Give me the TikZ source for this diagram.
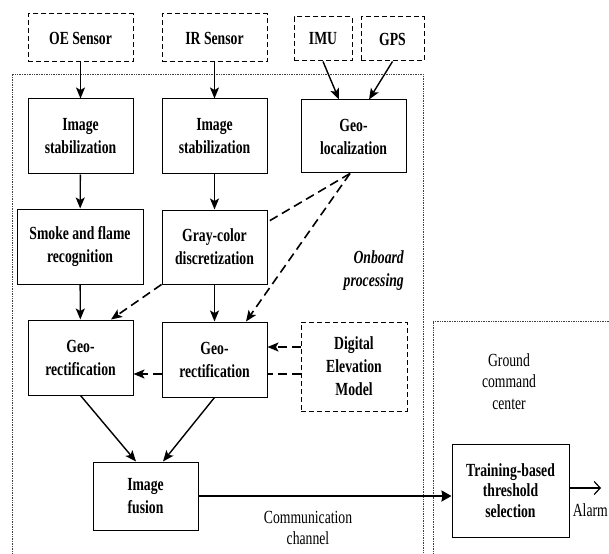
\documentclass[tikz,border=0pt]{standalone}
\usepackage{fontspec}
\setmainfont{Liberation Serif}[FakeStretch=0.74]
\usetikzlibrary{arrows.meta}
\begin{document}
\begin{tikzpicture}[x=1pt,y=-1pt,
  box/.style={draw, line width=1pt, fill=white, inner sep=0pt, align=center,
    font={\fontsize{18.5pt}{23pt}\selectfont\bfseries}},
  sensor/.style={box, dash pattern=on 5pt off 3pt},
  arr/.style={-{Stealth[length=11pt,width=9pt,inset=2.5pt]}, line width=1.4pt},
  darr/.style={arr, dash pattern=on 9pt off 5pt, line width=1.6pt},
  dline/.style={dash pattern=on 9pt off 5pt, line width=1.6pt},
  region/.style={draw=black!75, line width=0.8pt, dash pattern=on 0.8pt off 0.9pt},
  plain/.style={inner sep=0pt, align=center, font={\fontsize{18.5pt}{21.5pt}\selectfont}}
]
\useasboundingbox (0,0) rectangle (609,553);
\clip (0,0) rectangle (609,553);
\fill[white] (0,0) rectangle (609,553);

% regions
\draw[region] (12,574) -- (12,74) -- (423,74) -- (423,574);
\draw[region] (433,574) -- (433,321) -- (630,321);

% sensors
\node[sensor, minimum width=105pt, minimum height=48pt] (oe) at (80.5,38) {OE Sensor};
\node[sensor, minimum width=105pt, minimum height=48pt] (ir) at (214.5,38) {IR Sensor};
\node[sensor, minimum width=58pt, minimum height=44pt] (imu) at (323,39) {IMU};
\node[sensor, minimum width=63pt, minimum height=44pt] (gps) at (392.5,39) {GPS};

% processing boxes
\node[box, minimum width=105pt, minimum height=75pt] (stab1) at (80.5,136.5) {Image\\stabilization};
\node[box, minimum width=105pt, minimum height=75pt] (stab2) at (214.5,136.5) {Image\\stabilization};
\node[box, minimum width=105pt, minimum height=73pt] (geoloc) at (353.5,136.5) {Geo-\\localization};
\node[box, minimum width=126pt, minimum height=75pt] (smoke) at (80,246.5) {Smoke and flame\\recognition};
\node[box, minimum width=105pt, minimum height=74pt] (gray) at (214.5,247) {Gray-color\\discretization};
\node[box, minimum width=105pt, minimum height=75pt] (gr1) at (80.5,357.5) {Geo-\\rectification};
\node[box, minimum width=105pt, minimum height=75pt] (gr2) at (214.5,359.5) {Geo-\\rectification};
\node[sensor, minimum width=106pt, minimum height=89pt] (dem) at (354,366.5) {Digital\\Elevation\\Model};
\node[box, minimum width=105pt, minimum height=68pt] (fusion) at (145.5,496) {Image\\fusion};
\node[box, minimum width=117pt, minimum height=93pt,
  font={\fontsize{18.5pt}{20.5pt}\selectfont\bfseries}] (train) at (510.5,490.5) {Training-based\\threshold\\selection};

% labels
\node[plain, anchor=east, align=right, font={\fontsize{18.5pt}{23pt}\selectfont\bfseries\itshape}] (onboard) at (404,271) {Onboard\\processing};
\node[plain] (ground) at (509,381.5) {Ground\\command\\center};
\node[plain, font={\fontsize{18.5pt}{21pt}\selectfont}] (comm) at (308,527.5) {Communication\\channel};
\node[plain, anchor=east] (alarmtxt) at (608,510) {Alarm};

% solid connectors
\draw[arr] (oe) -- (stab1);
\draw[arr] (ir) -- (stab2);
\draw[arr] (imu.south) -- ([xshift=-14.5pt]geoloc.north);
\draw[arr] (gps.south) -- ([xshift=15.5pt]geoloc.north);
\draw[arr] (stab1) -- (smoke);
\draw[arr] (stab2) -- (gray);
\draw[arr] (smoke) -- (gr1);
\draw[arr] (gray) -- (gr2);
\draw[arr] (gr1.south) -- ([xshift=-9.5pt]fusion.north);
\draw[arr] (gr2.south) -- ([xshift=17.5pt]fusion.north);

% dashed connectors
\draw[dline] ([xshift=-3.5pt]geoloc.south) -- ([yshift=25pt]gray.east);
\draw[darr] ([xshift=-3.5pt]geoloc.south) -- ([xshift=31.5pt]gr2.north);
\draw[darr] (gray.south west) -- ([xshift=30.5pt]gr1.north);
\draw[darr] ([yshift=19.5pt]dem.west) -- ([yshift=19.5pt]dem.west -| gr2.east);
\draw[dline] ([yshift=-7.5pt]dem.west) -- ([yshift=-7.5pt]dem.west -| gr2.east);
\draw[darr] ([yshift=-7.5pt]dem.west -| gr2.west) -- ([yshift=-7.5pt]dem.west -| gr1.east);

% communication and alarm
\draw[line width=2pt, -{Stealth[length=10pt,width=11pt,inset=1pt]}] (fusion.east) -- (fusion.east -| train.west);
\coordinate (alarm) at (601,488);
\draw[line width=1.2pt, -{Straight Barb[length=6pt,width=13pt]}] ([yshift=2.5pt]train.east) -- (alarm);
\end{tikzpicture}
\end{document}
